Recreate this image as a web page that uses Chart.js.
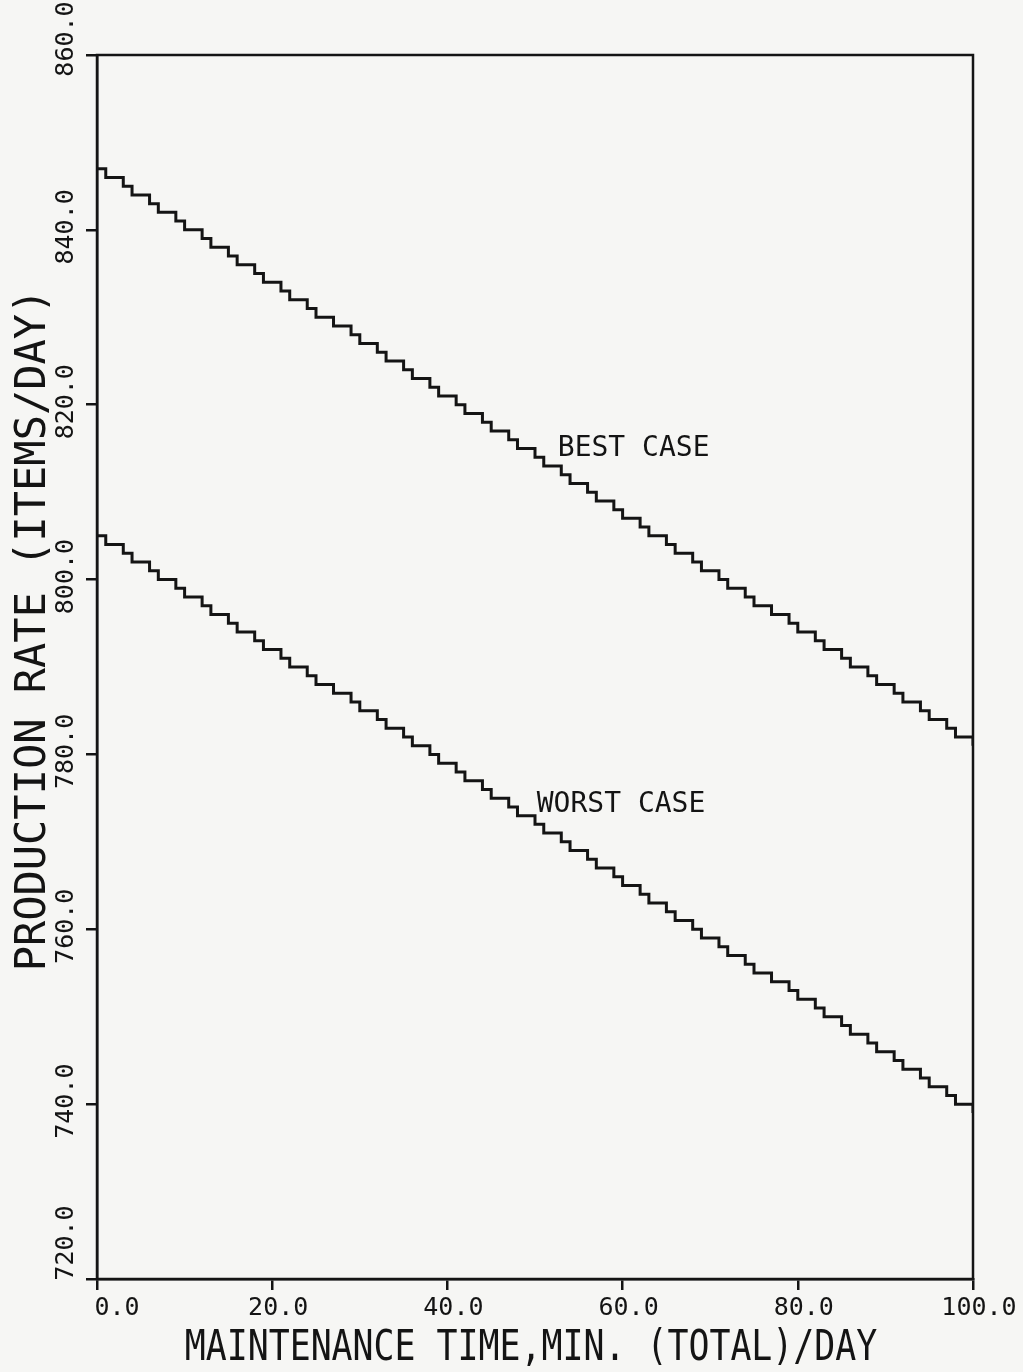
<!DOCTYPE html>
<html>
<head>
<meta charset="utf-8">
<title>Production rate vs maintenance time</title>
<script src="https://cdn.jsdelivr.net/npm/chart.js@4.4.1/dist/chart.umd.min.js"></script>
<style>
  html, body { margin: 0; padding: 0; background: #f6f6f4; }
  #wrap { width: 1023px; height: 1372px; }
</style>
</head>
<body>
<div id="wrap"><canvas id="chart" width="1023" height="1372"></canvas></div>
<script>
// maintenance time, minutes (total) per day
var minutes = [
    0, 1, 2, 3, 4, 5, 6, 7, 8, 9,
    10, 11, 12, 13, 14, 15, 16, 17, 18, 19,
    20, 21, 22, 23, 24, 25, 26, 27, 28, 29,
    30, 31, 32, 33, 34, 35, 36, 37, 38, 39,
    40, 41, 42, 43, 44, 45, 46, 47, 48, 49,
    50, 51, 52, 53, 54, 55, 56, 57, 58, 59,
    60, 61, 62, 63, 64, 65, 66, 67, 68, 69,
    70, 71, 72, 73, 74, 75, 76, 77, 78, 79,
    80, 81, 82, 83, 84, 85, 86, 87, 88, 89,
    90, 91, 92, 93, 94, 95, 96, 97, 98, 99, 100
];

// production rate, items/day
var bestCase = [
    847, 846, 846, 845, 844, 844, 843, 842, 842, 841,
    840, 840, 839, 838, 838, 837, 836, 836, 835, 834,
    834, 833, 832, 832, 831, 830, 830, 829, 829, 828,
    827, 827, 826, 825, 825, 824, 823, 823, 822, 821,
    821, 820, 819, 819, 818, 817, 817, 816, 815, 815,
    814, 813, 813, 812, 811, 811, 810, 809, 809, 808,
    807, 807, 806, 805, 805, 804, 803, 803, 802, 801,
    801, 800, 799, 799, 798, 797, 797, 796, 796, 795,
    794, 794, 793, 792, 792, 791, 790, 790, 789, 788,
    788, 787, 786, 786, 785, 784, 784, 783, 782, 782, 781
];

var worstCase = [
    805, 804, 804, 803, 802, 802, 801, 800, 800, 799,
    798, 798, 797, 796, 796, 795, 794, 794, 793, 792,
    792, 791, 790, 790, 789, 788, 788, 787, 787, 786,
    785, 785, 784, 783, 783, 782, 781, 781, 780, 779,
    779, 778, 777, 777, 776, 775, 775, 774, 773, 773,
    772, 771, 771, 770, 769, 769, 768, 767, 767, 766,
    765, 765, 764, 763, 763, 762, 761, 761, 760, 759,
    759, 758, 757, 757, 756, 755, 755, 754, 754, 753,
    752, 752, 751, 750, 750, 749, 748, 748, 747, 746,
    746, 745, 744, 744, 743, 742, 742, 741, 740, 740, 739
];

var xTickValues = [0, 20, 40, 60, 80, 100];
var xTickLabels = ['0.0', '20.0', '40.0', '60.0', '80.0', '100.0'];
var yTickValues = [720, 740, 760, 780, 800, 820, 840, 860];
var yTickLabels = ['720.0', '740.0', '760.0', '780.0', '800.0', '820.0', '840.0', '860.0'];

var seriesNames = ['BEST CASE', 'WORST CASE'];
var xTitle = 'MAINTENANCE TIME,MIN. (TOTAL)/DAY';
var yTitle = 'PRODUCTION RATE (ITEMS/DAY)';

var ink = '#141414';
var paper = '#f6f6f4';
var mono = '"DejaVu Sans Mono", "Liberation Mono", monospace';

function toPoints(values) {
    return values.map(function (v, i) {
        return { x: minutes[i], y: v };
    });
}

// plotter-style frame, tick labels and captions
var plotterText = {
    id: 'plotterText',
    beforeDraw: function (chart) {
        var ctx = chart.ctx;
        ctx.save();
        ctx.fillStyle = paper;
        ctx.fillRect(0, 0, chart.width, chart.height);
        ctx.restore();
    },
    afterDraw: function (chart) {
        var ctx = chart.ctx;
        var area = chart.chartArea;
        var xs = chart.scales.x;
        var ys = chart.scales.y;

        ctx.save();
        ctx.strokeStyle = ink;
        ctx.lineWidth = 2.5;
        ctx.strokeRect(area.left, area.top, area.right - area.left, area.bottom - area.top);

        ctx.fillStyle = ink;
        ctx.font = '25px ' + mono;
        ctx.textBaseline = 'middle';
        ctx.textAlign = 'center';

        xTickValues.forEach(function (v, i) {
            var px = xs.getPixelForValue(v) + (i === 0 ? 20 : 6);
            ctx.fillText(xTickLabels[i], px, area.bottom + 29);
        });

        yTickValues.forEach(function (v, i) {
            var py = ys.getPixelForValue(v);
            if (i === 0) {
                py -= 36;
            } else if (i === yTickValues.length - 1) {
                py -= 16;
            } else {
                py -= 3;
            }
            ctx.save();
            ctx.translate(area.left - 31, py);
            ctx.rotate(-Math.PI / 2);
            ctx.fillText(yTickLabels[i], 0, 0);
            ctx.restore();
        });

        // axis titles
        ctx.save();
        ctx.font = '42px ' + mono;
        ctx.translate((area.left + area.right) / 2 - 4, area.bottom + 70);
        ctx.scale(0.83, 1);
        ctx.fillText(xTitle, 0, 0);
        ctx.restore();

        ctx.save();
        ctx.font = '42px ' + mono;
        ctx.translate(area.left - 63, area.top + 575);
        ctx.rotate(-Math.PI / 2);
        ctx.fillText(yTitle, 0, 0);
        ctx.restore();

        // curve captions
        ctx.font = '28px ' + mono;
        ctx.textAlign = 'left';
        ctx.textBaseline = 'alphabetic';
        ctx.fillText(seriesNames[0], xs.getPixelForValue(52.6), ys.getPixelForValue(814.1));
        ctx.fillText(seriesNames[1], xs.getPixelForValue(50.2), ys.getPixelForValue(773.4));
        ctx.restore();
    }
};

var ctx = document.getElementById('chart').getContext('2d');

var chart = new Chart(ctx, {
    type: 'line',
    data: {
        datasets: [{
            label: seriesNames[0],
            data: toPoints(bestCase),
            borderColor: ink,
            borderWidth: 3,
            pointRadius: 0,
            stepped: 'before',
            fill: false
        }, {
            label: seriesNames[1],
            data: toPoints(worstCase),
            borderColor: ink,
            borderWidth: 3,
            pointRadius: 0,
            stepped: 'before',
            fill: false
        }]
    },
    options: {
        responsive: false,
        animation: false,
        devicePixelRatio: 1,
        layout: {
            padding: { left: 86, right: 50, top: 55, bottom: 82 }
        },
        plugins: {
            legend: { display: false },
            tooltip: { enabled: false },
            title: { display: false }
        },
        scales: {
            x: {
                type: 'linear',
                min: 0,
                max: 100,
                ticks: { display: false, stepSize: 20 },
                grid: { display: true, drawOnChartArea: false, drawTicks: true, tickLength: 11, color: ink, lineWidth: 2.5 },
                border: { display: true, color: ink, width: 2.5 }
            },
            y: {
                type: 'linear',
                min: 720,
                max: 860,
                ticks: { display: false, stepSize: 20 },
                grid: { display: true, drawOnChartArea: false, drawTicks: true, tickLength: 11, color: ink, lineWidth: 2.5 },
                border: { display: true, color: ink, width: 2.5 }
            }
        }
    },
    plugins: [plotterText]
});
</script>
</body>
</html>
